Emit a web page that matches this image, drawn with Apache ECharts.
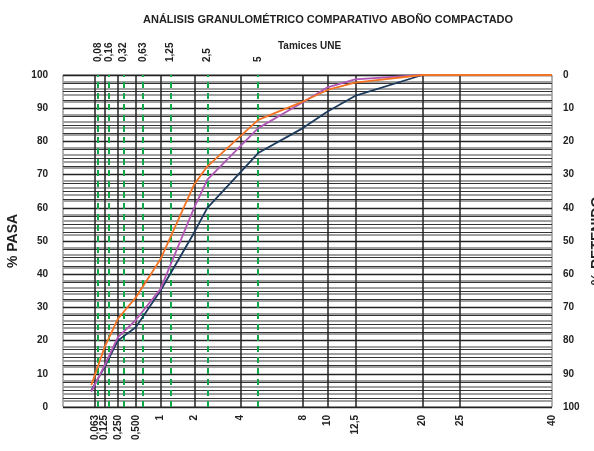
<!DOCTYPE html>
<html>
<head>
<meta charset="utf-8">
<script src="https://cdn.jsdelivr.net/npm/echarts@6/dist/echarts.min.js"></script>
<style>
html,body{margin:0;padding:0;background:#fff;}
#chart{width:594px;height:451px;}
</style>
</head>
<body>
<div id="chart"></div>
<script>
// ---- data ----
const bottomSieves = [0.063, 0.125, 0.25, 0.5, 1, 2, 4, 8, 10, 12.5, 20, 25, 40];
const bottomLabels = ['0,063', '0,125', '0,250', '0,500', '1', '2', '4', '8', '10', '12,5', '20', '25', '40'];
const uneSieves = [0.08, 0.16, 0.32, 0.63, 1.25, 2.5, 5];
const uneLabels = ['0,08', '0,16', '0,32', '0,63', '1,25', '2,5', '5'];

const sizes = [0.045, 0.125, 0.25, 0.5, 1, 2, 2.5, 5, 8, 10, 12.5, 20, 40];
const serieNavy = [5, 12, 20, 24, 35, 52.5, 60, 76.5, 84, 89, 93.7, 100, 100];
const seriePurple = [4.6, 12.5, 21, 26.2, 35.5, 60, 68.5, 84, 91.8, 96.3, 98.7, 100, 100];
const serieOrange = [6.6, 18, 26.5, 33, 44.5, 67, 72.5, 86.5, 92, 95.5, 97.7, 100, 100];

// ---- scale: 0.45 power ----
const P = 0.45;
const tf = d => Math.pow(d, P);
const xMin = -0.06;
const xMax = tf(40);

function labelFor(values, labels) {
  return function (v) {
    for (let i = 0; i < values.length; i++) {
      if (Math.abs(tf(values[i]) - v) < 1e-6) return labels[i];
    }
    return '';
  };
}

const toPairs = arr => sizes.map((d, i) => [tf(d), arr[i]]);

const chart = echarts.init(document.getElementById('chart'), null, {renderer: 'canvas'});
const FONT = 'Liberation Sans, Arial, sans-serif';

const option = {
  animation: false,
  backgroundColor: '#fff',
  title: [
    {
      text: 'ANÁLISIS GRANULOMÉTRICO COMPARATIVO ABOÑO COMPACTADO',
      left: 138, top: 9,
      textStyle: {fontFamily: FONT, fontSize: 11, fontWeight: 'bold', color: '#222'}
    },
    {
      text: 'Tamices UNE',
      left: 273, top: 36,
      textStyle: {fontFamily: FONT, fontSize: 10, fontWeight: 'bold', color: '#222'}
    }
  ],
  grid: {left: 63, right: 42, top: 75, bottom: 44, show: true, borderColor: '#666', borderWidth: 1,
         containLabel: false, outerBoundsMode: 'none'},
  xAxis: [
    {
      type: 'value', position: 'bottom', min: xMin, max: xMax,
      axisLine: {show: false}, axisTick: {show: false},
      splitLine: {show: false},
      axisLabel: {
        customValues: [xMin].concat(bottomSieves.map(tf)),
        formatter: labelFor(bottomSieves, bottomLabels),
        rotate: 90, margin: 8, hideOverlap: false, showMinLabel: true, showMaxLabel: true,
        fontFamily: FONT, fontSize: 10, fontWeight: 'bold', color: '#222'
      }
    },
    {
      type: 'value', position: 'top', min: xMin, max: xMax,
      axisLine: {show: false}, axisTick: {show: false},
      splitLine: {show: false},
      axisLabel: {
        customValues: uneSieves.map(tf),
        formatter: labelFor(uneSieves, uneLabels),
        rotate: 90, margin: 13, hideOverlap: false, showMinLabel: true, showMaxLabel: true,
        fontFamily: FONT, fontSize: 10, fontWeight: 'bold', color: '#222'
      }
    }
  ],
  yAxis: [
    {
      type: 'value', min: 0, max: 100, interval: 10, position: 'left',
      name: '% PASA', nameLocation: 'middle', nameGap: 38, nameRotate: 90,
      nameTextStyle: {fontFamily: FONT, fontSize: 14, fontWeight: 'bold', color: '#222'},
      axisLine: {show: false}, axisTick: {show: false},
      axisLabel: {margin: 15, fontFamily: FONT, fontSize: 10, fontWeight: 'bold', color: '#222'},
      splitLine: {show: true, lineStyle: {color: '#222', width: 1.3}},
      minorTick: {show: false, splitNumber: 5},
      minorSplitLine: {show: true, lineStyle: {color: '#a0a0a0', width: 2}}
    },
    {
      type: 'value', min: 0, max: 100, interval: 10, position: 'right', inverse: true,
      name: '% RETENIDO', nameLocation: 'middle', nameGap: 36, nameRotate: 90,
      nameTextStyle: {fontFamily: FONT, fontSize: 14, fontWeight: 'bold', color: '#222'},
      axisLine: {show: false}, axisTick: {show: false},
      axisLabel: {margin: 11, fontFamily: FONT, fontSize: 10, fontWeight: 'bold', color: '#222'},
      splitLine: {show: false},
      minorTick: {show: false, splitNumber: 4},
      minorSplitLine: {show: true, lineStyle: {color: '#333', width: 1}}
    }
  ],
  series: [
    {
      type: 'line', xAxisIndex: 0, yAxisIndex: 0, data: [], silent: true,
      markLine: {
        silent: true, symbol: 'none', label: {show: false},
        lineStyle: {color: '#222', width: 1.5, type: 'solid'},
        data: bottomSieves.map(d => ({xAxis: tf(d)}))
      }
    },
    {
      type: 'line', xAxisIndex: 0, yAxisIndex: 0, data: [], silent: true,
      markLine: {
        silent: true, symbol: 'none', label: {show: false},
        lineStyle: {color: '#10a84a', width: 2, type: [6, 5]},
        data: uneSieves.map(d => ({xAxis: tf(d)}))
      }
    },
    {
      name: 'Navy', type: 'line', xAxisIndex: 0, yAxisIndex: 0,
      data: toPairs(serieNavy), showSymbol: false, symbol: 'none',
      lineStyle: {color: '#1b3a5c', width: 1.8}, z: 5
    },
    {
      name: 'Purple', type: 'line', xAxisIndex: 0, yAxisIndex: 0,
      data: toPairs(seriePurple), showSymbol: false, symbol: 'none',
      lineStyle: {color: '#b056b5', width: 1.8}, z: 6
    },
    {
      name: 'Orange', type: 'line', xAxisIndex: 0, yAxisIndex: 0,
      data: toPairs(serieOrange), showSymbol: false, symbol: 'none',
      lineStyle: {color: '#f47323', width: 1.8}, z: 7
    }
  ]
};
chart.setOption(option);
</script>
</body>
</html>
